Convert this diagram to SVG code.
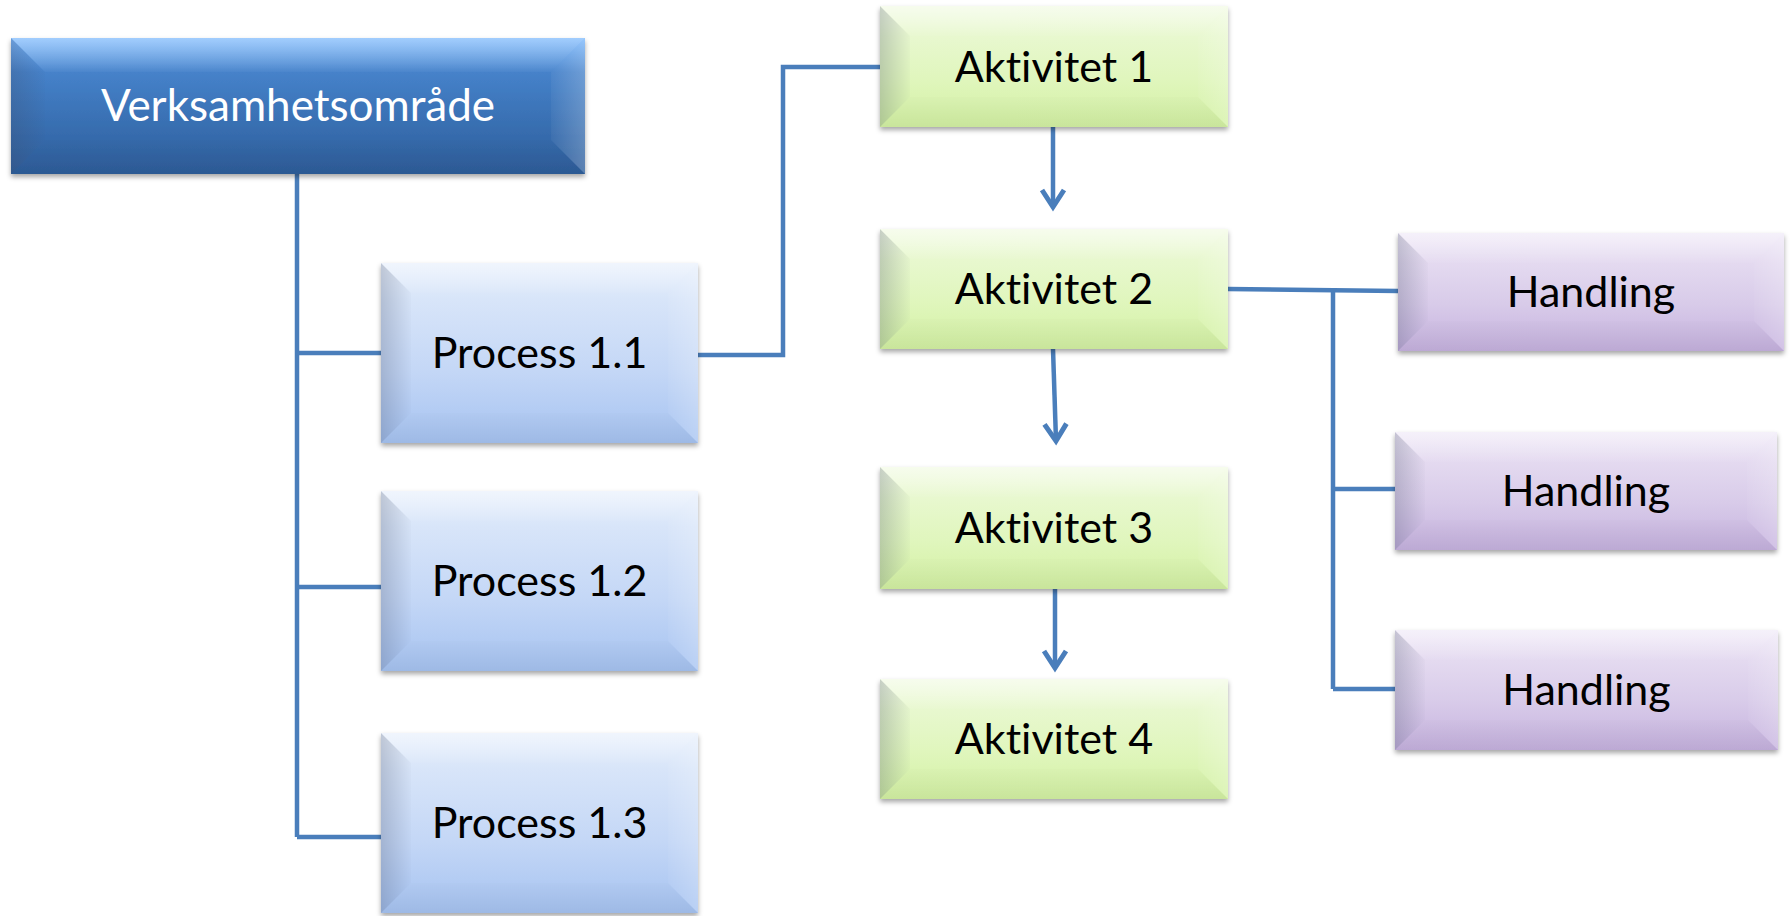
<svg xmlns="http://www.w3.org/2000/svg" width="1792" height="916" viewBox="0 0 1792 916">
  <defs>
    <style>
      .conn { fill: none; stroke: #4a7ebb; stroke-width: 4.5; stroke-linejoin: miter; }
      .base { filter: url(#shadow); }
      .fl { fill: url(#facetLeft); }
      .fr { fill: url(#facetRight); }
      .ft { fill: url(#facetTop); }
      .fb { fill: url(#facetBottom); }
      .lbl { font-family: Lato, "Open Sans", "Liberation Sans", sans-serif; font-size: 43px; text-anchor: middle; fill: #000; font-variant-ligatures: none; font-feature-settings: "liga" 0, "clig" 0; }
      .lbl.light { fill: #fff; font-size: 44px; }
    </style>
    <filter id="shadow" x="-5%" y="-10%" width="110%" height="130%">
      <feDropShadow dx="0" dy="3" stdDeviation="2.5" flood-color="#000" flood-opacity="0.35"/>
    </filter>
    <!-- box body fills -->
    <linearGradient id="gDark" x1="0" y1="0" x2="0" y2="1">
      <stop offset="0" stop-color="#7ab8fd"/>
      <stop offset="0.25" stop-color="#4682ca"/>
      <stop offset="0.55" stop-color="#3b73b7"/>
      <stop offset="1" stop-color="#2e5e9b"/>
    </linearGradient>
    <linearGradient id="gBlue" x1="0" y1="0" x2="0" y2="1">
      <stop offset="0" stop-color="#eaf1fc"/>
      <stop offset="0.2" stop-color="#d8e5f9"/>
      <stop offset="0.6" stop-color="#c4d7f6"/>
      <stop offset="1" stop-color="#a6c3f1"/>
    </linearGradient>
    <linearGradient id="gGreen" x1="0" y1="0" x2="0" y2="1">
      <stop offset="0" stop-color="#f3fbe6"/>
      <stop offset="0.25" stop-color="#e8f8cf"/>
      <stop offset="0.6" stop-color="#e0f6bd"/>
      <stop offset="1" stop-color="#d3f1a3"/>
    </linearGradient>
    <linearGradient id="gPurple" x1="0" y1="0" x2="0" y2="1">
      <stop offset="0" stop-color="#f1ebf8"/>
      <stop offset="0.25" stop-color="#e4daf0"/>
      <stop offset="0.6" stop-color="#d8cbe9"/>
      <stop offset="1" stop-color="#c6b2df"/>
    </linearGradient>
    <!-- bevel facet overlays -->
    <linearGradient id="facetLeft" x1="0" y1="0" x2="1" y2="0">
      <stop offset="0" stop-color="#3c4660" stop-opacity="0.24"/>
      <stop offset="1" stop-color="#3c4660" stop-opacity="0.02"/>
    </linearGradient>
    <linearGradient id="facetRight" x1="1" y1="0" x2="0" y2="0">
      <stop offset="0" stop-color="#fff" stop-opacity="0.22"/>
      <stop offset="1" stop-color="#fff" stop-opacity="0.04"/>
    </linearGradient>
    <linearGradient id="facetTop" x1="0" y1="0" x2="0" y2="1">
      <stop offset="0" stop-color="#fff" stop-opacity="0.3"/>
      <stop offset="1" stop-color="#fff" stop-opacity="0.03"/>
    </linearGradient>
    <linearGradient id="facetBottom" x1="0" y1="1" x2="0" y2="0">
      <stop offset="0" stop-color="#000" stop-opacity="0.05"/>
      <stop offset="1" stop-color="#000" stop-opacity="0.01"/>
    </linearGradient>
    <marker id="arrow" markerUnits="userSpaceOnUse" markerWidth="40" markerHeight="40" refX="0" refY="0" orient="auto" overflow="visible">
      <path d="M-17,-11 L0,0 L-17,11" fill="none" stroke="#4a7ebb" stroke-width="5"/>
    </marker>
  </defs>

  <rect width="1792" height="916" fill="#fff"/>

  <g id="connectors">
    <path class="conn" d="M297,174 V837"/>
    <path class="conn" d="M297,353 H381"/>
    <path class="conn" d="M297,587 H381"/>
    <path class="conn" d="M297,837 H381"/>
    <path class="conn" d="M698,355 H783 V67 H880"/>
    <path class="conn" d="M1228,289 L1398,291"/>
    <path class="conn" d="M1333,290 V689"/>
    <path class="conn" d="M1333,489 H1395"/>
    <path class="conn" d="M1333,689 H1395"/>
    <path class="conn" d="M1053,127 V207" marker-end="url(#arrow)"/>
    <path class="conn" d="M1053,349 L1056,441" marker-end="url(#arrow)"/>
    <path class="conn" d="M1055,589 V668" marker-end="url(#arrow)"/>
  </g>

  <g id="verksamhetsomrade">
    <rect class="base" x="11" y="38" width="574" height="136" fill="url(#gDark)"/>
    <polygon class="fl" points="11,38 45,72 45,140 11,174"/>
    <polygon class="fr" points="585,38 551,72 551,140 585,174"/>
    <polygon class="ft" points="11,38 585,38 551,72 45,72"/>
    <polygon class="fb" points="11,174 585,174 551,140 45,140"/>
    <text class="lbl light" x="298" y="121">Verksamhetsområde</text>
  </g>

  <g id="process-1-1">
    <rect class="base" x="381" y="263" width="317" height="180" fill="url(#gBlue)"/>
    <polygon class="fl" points="381,263 411,293 411,413 381,443"/>
    <polygon class="fr" points="698,263 668,293 668,413 698,443"/>
    <polygon class="ft" points="381,263 698,263 668,293 411,293"/>
    <polygon class="fb" points="381,443 698,443 668,413 411,413"/>
    <text class="lbl" x="539.5" y="368">Process 1.1</text>
  </g>

  <g id="process-1-2">
    <rect class="base" x="381" y="491" width="317" height="180" fill="url(#gBlue)"/>
    <polygon class="fl" points="381,491 411,521 411,641 381,671"/>
    <polygon class="fr" points="698,491 668,521 668,641 698,671"/>
    <polygon class="ft" points="381,491 698,491 668,521 411,521"/>
    <polygon class="fb" points="381,671 698,671 668,641 411,641"/>
    <text class="lbl" x="539.5" y="596">Process 1.2</text>
  </g>

  <g id="process-1-3">
    <rect class="base" x="381" y="733" width="317" height="180" fill="url(#gBlue)"/>
    <polygon class="fl" points="381,733 411,763 411,883 381,913"/>
    <polygon class="fr" points="698,733 668,763 668,883 698,913"/>
    <polygon class="ft" points="381,733 698,733 668,763 411,763"/>
    <polygon class="fb" points="381,913 698,913 668,883 411,883"/>
    <text class="lbl" x="539.5" y="838">Process 1.3</text>
  </g>

  <g id="aktivitet-1">
    <rect class="base" x="880" y="6" width="348" height="121" fill="url(#gGreen)"/>
    <polygon class="fl" points="880,6 910,36 910,97 880,127"/>
    <polygon class="fr" points="1228,6 1198,36 1198,97 1228,127"/>
    <polygon class="ft" points="880,6 1228,6 1198,36 910,36"/>
    <polygon class="fb" points="880,127 1228,127 1198,97 910,97"/>
    <text class="lbl" x="1054" y="82">Aktivitet 1</text>
  </g>

  <g id="aktivitet-2">
    <rect class="base" x="880" y="229" width="348" height="120" fill="url(#gGreen)"/>
    <polygon class="fl" points="880,229 910,259 910,319 880,349"/>
    <polygon class="fr" points="1228,229 1198,259 1198,319 1228,349"/>
    <polygon class="ft" points="880,229 1228,229 1198,259 910,259"/>
    <polygon class="fb" points="880,349 1228,349 1198,319 910,319"/>
    <text class="lbl" x="1054" y="304">Aktivitet 2</text>
  </g>

  <g id="aktivitet-3">
    <rect class="base" x="880" y="467" width="348" height="122" fill="url(#gGreen)"/>
    <polygon class="fl" points="880,467 910,497 910,559 880,589"/>
    <polygon class="fr" points="1228,467 1198,497 1198,559 1228,589"/>
    <polygon class="ft" points="880,467 1228,467 1198,497 910,497"/>
    <polygon class="fb" points="880,589 1228,589 1198,559 910,559"/>
    <text class="lbl" x="1054" y="543">Aktivitet 3</text>
  </g>

  <g id="aktivitet-4">
    <rect class="base" x="880" y="679" width="348" height="120" fill="url(#gGreen)"/>
    <polygon class="fl" points="880,679 910,709 910,769 880,799"/>
    <polygon class="fr" points="1228,679 1198,709 1198,769 1228,799"/>
    <polygon class="ft" points="880,679 1228,679 1198,709 910,709"/>
    <polygon class="fb" points="880,799 1228,799 1198,769 910,769"/>
    <text class="lbl" x="1054" y="754">Aktivitet 4</text>
  </g>

  <g id="handling-1">
    <rect class="base" x="1398" y="233" width="386" height="118" fill="url(#gPurple)"/>
    <polygon class="fl" points="1398,233 1428,263 1428,321 1398,351"/>
    <polygon class="fr" points="1784,233 1754,263 1754,321 1784,351"/>
    <polygon class="ft" points="1398,233 1784,233 1754,263 1428,263"/>
    <polygon class="fb" points="1398,351 1784,351 1754,321 1428,321"/>
    <text class="lbl" x="1591" y="307">Handling</text>
  </g>

  <g id="handling-2">
    <rect class="base" x="1395" y="432" width="382" height="118" fill="url(#gPurple)"/>
    <polygon class="fl" points="1395,432 1425,462 1425,520 1395,550"/>
    <polygon class="fr" points="1777,432 1747,462 1747,520 1777,550"/>
    <polygon class="ft" points="1395,432 1777,432 1747,462 1425,462"/>
    <polygon class="fb" points="1395,550 1777,550 1747,520 1425,520"/>
    <text class="lbl" x="1586" y="506">Handling</text>
  </g>

  <g id="handling-3">
    <rect class="base" x="1395" y="630" width="383" height="120" fill="url(#gPurple)"/>
    <polygon class="fl" points="1395,630 1425,660 1425,720 1395,750"/>
    <polygon class="fr" points="1778,630 1748,660 1748,720 1778,750"/>
    <polygon class="ft" points="1395,630 1778,630 1748,660 1425,660"/>
    <polygon class="fb" points="1395,750 1778,750 1748,720 1425,720"/>
    <text class="lbl" x="1586.5" y="705">Handling</text>
  </g>
</svg>
